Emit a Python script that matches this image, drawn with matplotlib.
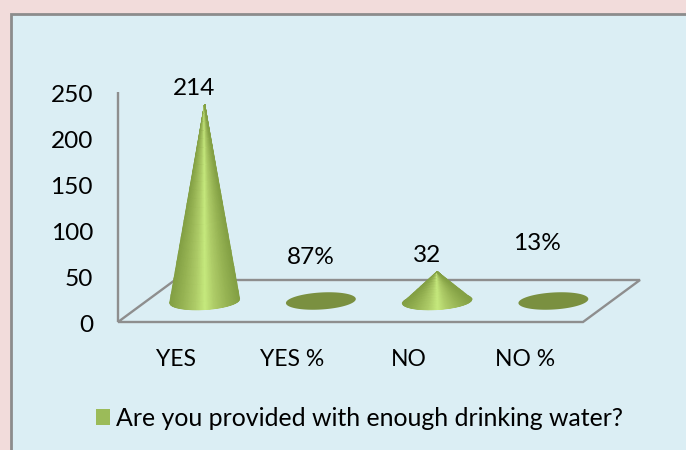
import numpy as np
import matplotlib
matplotlib.use("Agg")
import matplotlib.pyplot as plt
from matplotlib.patches import Rectangle, Polygon, Patch
from matplotlib.colors import LinearSegmentedColormap
from matplotlib.transforms import ScaledTranslation

categories = ["YES", "YES %", "NO", "NO %"]
values = [214, 0.87, 32, 0.13]
value_labels = ["214", "87%", "32", "13%"]
y_ticks = [0, 50, 100, 150, 200, 250]
series_name = "Are you provided with enough drinking water?"

W, H = 686, 450
FONT = "Lato"
FS = 17.6
plt.rcParams["font.family"] = [FONT, "DejaVu Sans"]
fig = plt.figure(figsize=(W / 100, H / 100), dpi=100, facecolor="#F2DCDB")

# Panel
fig.add_artist(Rectangle((11 / W, -0.02), 1, 1 - 14 / H + 0.02, transform=fig.transFigure,
                         fc="#DBEEF4", ec="#8C8C8C", lw=2, zorder=-5))

L, R, T, B = 118, 583, 92, 322
ax = fig.add_axes([L / W, 1 - B / H, (R - L) / W, (B - T) / H], zorder=2)
ax.patch.set_alpha(0)
for s in ax.spines.values():
    s.set_visible(False)

ppx = (R - L) / 4
ppy = (B - T) / 250
DEPTH_X = 57 / ppx
DEPTH_Y = 42 / ppy
GRAY = "#8E8E8E"

# Floor and vertical axis
x0, x1 = -0.5, 3.5
floor = Polygon([(x0, 0), (x1, 0), (x1 + DEPTH_X, DEPTH_Y), (x0 + DEPTH_X, DEPTH_Y)], closed=True,
                fill=False, ec=GRAY, lw=1.7, clip_on=False, zorder=1, joinstyle="miter")
ax.add_patch(floor)
ax.plot([x0, x0], [0, 250], color=GRAY, lw=1.7, clip_on=False, zorder=1, solid_capstyle="butt")

cmap = LinearSegmentedColormap.from_list(
    "cone", [(0, "#83A044"), (0.18, "#97B454"), (0.36, "#AECC68"), (0.5, "#C6EA7E"),
             (0.64, "#AECC68"), (0.82, "#97B454"), (1, "#83A044")])

A, BB, TILT = 35.0, 8.5, np.deg2rad(3.5)


def ellipse(t, cx, cy):
    px = A * np.cos(t) * np.cos(TILT) - BB * np.sin(t) * np.sin(TILT)
    py = A * np.cos(t) * np.sin(TILT) + BB * np.sin(t) * np.cos(TILT)
    return cx + px / ppx, cy + py / ppy


label_offsets = [(-11, 5), (-10, 32), (-10, 6), (-16, 47)]

for i, (v, lab) in enumerate(zip(values, value_labels)):
    cx = i + DEPTH_X / 2
    cy = DEPTH_Y / 2
    tt = np.linspace(0, 2 * np.pi, 160)
    ex, ey = ellipse(tt, cx, cy)
    ax.fill(ex, ey, color="#7A9040", lw=0, clip_on=False, zorder=2)
    if v >= 1:
        # Mesh from the front arc of the base up to the apex; shade runs across the cone
        us = np.linspace(-1, 1, 81)
        bx, by = ellipse(2 * np.pi - np.arccos(us), cx, cy)
        frac = np.linspace(0, 1, 25)[:, None]
        X = bx[None, :] * (1 - frac) + cx * frac
        Y = by[None, :] * (1 - frac) + (cy + v) * frac
        C = np.tile((us + 1) / 2, (len(frac), 1))
        ax.pcolormesh(X, Y, C, shading="gouraud", cmap=cmap, vmin=0, vmax=1, zorder=3, clip_on=False)
    dx, dy = label_offsets[i]
    ax.annotate(lab, (cx, cy + v), xytext=(dx * 0.72, dy * 0.72), textcoords="offset points",
                ha="center", va="bottom", fontsize=FS, color="black", annotation_clip=False, zorder=5)

ax.set_xlim(-0.5, 3.5)
ax.set_ylim(0, 250)
ax.set_xticks(range(len(categories)), categories)
ax.set_yticks(y_ticks)
ax.tick_params(axis="y", length=0, labelsize=FS, labelcolor="black", pad=18)
ax.tick_params(axis="x", length=0, labelsize=16.5, labelcolor="black", pad=19.5)
shift = ScaledTranslation(0, -2 / 100, fig.dpi_scale_trans)
for t in ax.get_yticklabels():
    t.set_transform(t.get_transform() + shift)

fig.legend(handles=[Patch(fc="#9BBB59", ec="none", label=series_name)],
           loc="center", bbox_to_anchor=(359.5 / W, 1 - 418.5 / H), frameon=False,
           fontsize=17.95, handlelength=0.6, handleheight=0.6, handletextpad=0.24,
           borderpad=0, labelcolor="black")

fig.savefig("out.png", dpi=100, facecolor=fig.get_facecolor())
